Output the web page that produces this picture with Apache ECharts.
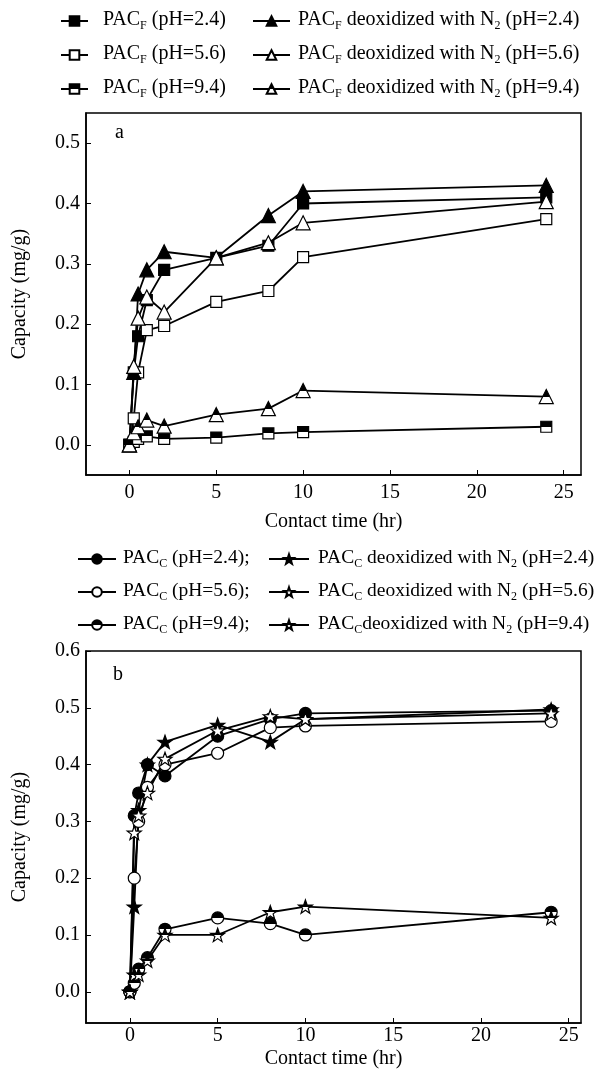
<!DOCTYPE html>
<html>
<head>
<meta charset="utf-8">
<script src="https://cdn.jsdelivr.net/npm/echarts@6/dist/echarts.min.js"></script>
<style>
html,body{margin:0;padding:0;background:#fff;}
#chart{width:604px;height:1070px;}
</style>
</head>
<body>
<div id="chart"></div>
<script>
// 数据: 接触时间 (hr) 与吸附量 (mg/g)
var timeA = [0, 0.25, 0.5, 1, 2, 5, 8, 10, 24];
var timeB = [0, 0.25, 0.5, 1, 2, 5, 8, 10, 24];

// 图 a: PAC_F
var pacF24 = [0, 0.12, 0.18, 0.24, 0.29, 0.31, 0.33, 0.40, 0.41];
var pacF56 = [0, 0.044, 0.12, 0.19, 0.197, 0.237, 0.255, 0.311, 0.374];
var pacF94 = [0, 0.005, 0.01, 0.014, 0.01, 0.012, 0.019, 0.021, 0.03];
var pacFN24 = [0, 0.12, 0.25, 0.29, 0.32, 0.31, 0.38, 0.42, 0.43];
var pacFN56 = [0, 0.13, 0.21, 0.245, 0.22, 0.31, 0.335, 0.368, 0.403];
var pacFN94 = [0, 0.02, 0.03, 0.041, 0.031, 0.05, 0.06, 0.09, 0.08];

// 图 b: PAC_C
var pacC24 = [0, 0.31, 0.35, 0.40, 0.38, 0.45, 0.48, 0.49, 0.495];
var pacC56 = [0, 0.2, 0.3, 0.36, 0.40, 0.42, 0.465, 0.468, 0.476];
var pacC94 = [0, 0.015, 0.04, 0.06, 0.11, 0.13, 0.12, 0.10, 0.14];
var pacCN24 = [0, 0.15, 0.32, 0.40, 0.44, 0.47, 0.44, 0.48, 0.497];
var pacCN56 = [0, 0.28, 0.31, 0.35, 0.41, 0.46, 0.485, 0.48, 0.49];
var pacCN94 = [0, 0.03, 0.03, 0.055, 0.10, 0.10, 0.14, 0.15, 0.13];

// 刻度
var xTicks = [0, 5, 10, 15, 20, 25];
var yTicksA = [0, 0.1, 0.2, 0.3, 0.4, 0.5];
var yTicksB = [0, 0.1, 0.2, 0.3, 0.4, 0.5, 0.6];

// 图例名称
var namesA = ['PAC_F (pH=2.4)', 'PAC_F (pH=5.6)', 'PAC_F (pH=9.4)',
	'PAC_F deoxidized with N_2 (pH=2.4)', 'PAC_F deoxidized with N_2 (pH=5.6)', 'PAC_F deoxidized with N_2 (pH=9.4)'];
var namesB = ['PAC_C (pH=2.4);', 'PAC_C (pH=5.6);', 'PAC_C (pH=9.4);',
	'PAC_C deoxidized with N_2 (pH=2.4)', 'PAC_C deoxidized with N_2 (pH=5.6)', 'PAC_Cdeoxidized with N_2 (pH=9.4)'];

var FONT = 'Liberation Serif';
var STAR = 'path://M0,-10 L2.35,-3.24 L9.51,-3.09 L3.8,1.24 L5.88,8.09 L0,4 L-5.88,8.09 L-3.8,1.24 L-9.51,-3.09 L-2.35,-3.24 Z';

function half() {
	return new echarts.graphic.LinearGradient(0, 0, 0, 1, [
		{offset: 0, color: '#000'}, {offset: 0.5, color: '#000'},
		{offset: 0.5, color: '#fff'}, {offset: 1, color: '#fff'}
	]);
}

function pairs(t, v) {
	return t.map(function (x, i) { return [x, v[i]]; });
}

function mk(name, idx, t, v, sym, size, fill) {
	return {
		name: name,
		type: 'line',
		xAxisIndex: idx,
		yAxisIndex: idx,
		data: pairs(t, v),
		symbol: sym,
		symbolSize: size,
		symbolKeepAspect: true,
		lineStyle: {color: '#000', width: 1.8},
		itemStyle: {color: fill, borderColor: '#000', borderWidth: 1.2},
		emphasis: {disabled: true}
	};
}

// 下标用 rich text
function legendFmt(name) {
	return '{t|' + name.replace(/_(\w)/g, '}{s|$1}{t|') + '}';
}

function legend(left, top, w, pad, gap, fs, data) {
	return {
		orient: 'vertical', left: left, top: top, padding: 0,
		itemWidth: w, itemHeight: 12, itemGap: gap,
		selectedMode: false,
		formatter: legendFmt,
		textStyle: {
			padding: [0, 0, 0, pad],
			rich: {
				t: {fontFamily: FONT, fontSize: fs, color: '#000', lineHeight: 22, verticalAlign: 'top'},
				s: {fontFamily: FONT, fontSize: 12, color: '#000', lineHeight: 12, verticalAlign: 'bottom', padding: [10, 0, 0, 0]}
			}
		},
		data: data
	};
}

function xAxis(idx, max, margin, gap) {
	return {
		type: 'value', gridIndex: idx, min: -2.5, max: max,
		name: 'Contact time (hr)', nameLocation: 'middle', nameGap: gap,
		nameTextStyle: {fontFamily: FONT, fontSize: 20, color: '#000'},
		axisLine: {onZero: false, lineStyle: {color: '#000', width: 1.5}},
		axisTick: {inside: true, length: 5, customValues: xTicks, lineStyle: {color: '#000'}},
		axisLabel: {customValues: xTicks, margin: margin, fontFamily: FONT, fontSize: 20, color: '#000'},
		splitLine: {show: false}
	};
}

function yAxis(idx, min, max, ticks) {
	return {
		type: 'value', gridIndex: idx, min: min, max: max,
		name: 'Capacity (mg/g)', nameLocation: 'middle', nameGap: 56,
		nameTextStyle: {fontFamily: FONT, fontSize: 20, color: '#000'},
		axisLine: {onZero: false, lineStyle: {color: '#000', width: 1.5}},
		axisTick: {inside: true, length: 5, customValues: ticks, lineStyle: {color: '#000'}},
		axisLabel: {customValues: ticks, margin: 6, fontFamily: FONT, fontSize: 20, color: '#000',
			formatter: function (v) { return v.toFixed(1); }},
		splitLine: {show: false}
	};
}

var myChart = echarts.init(document.getElementById('chart'));

var option = {
	animation: false,
	backgroundColor: '#fff',
	title: [
		{text: 'a', left: 110, top: 118, textStyle: {fontFamily: FONT, fontSize: 20, fontWeight: 'normal', color: '#000'}},
		{text: 'b', left: 108, top: 660, textStyle: {fontFamily: FONT, fontSize: 20, fontWeight: 'normal', color: '#000'}}
	],
	legend: [
		legend(60, 10, 27, 10, 12, 20, namesA.slice(0, 3)),
		legend(252, 10, 37, 3, 12, 20, namesA.slice(3)),
		legend(77, 548, 38, 2, 11, 19.5, namesB.slice(0, 3)),
		legend(268, 548, 40, 4, 11, 19.5, namesB.slice(3))
	],
	grid: [
		{left: 86, right: 23, top: 113, height: 362, show: true, borderColor: '#000', borderWidth: 1.5},
		{left: 86, right: 23, top: 651, height: 375, show: true, borderColor: '#000', borderWidth: 1.5}
	],
	xAxis: [xAxis(0, 26, 8, 37), xAxis(1, 25.7, 3, 26)],
	yAxis: [yAxis(0, -0.05, 0.55, yTicksA), yAxis(1, -0.055, 0.6, yTicksB)],
	series: [
		mk(namesA[0], 0, timeA, pacF24, 'rect', 11, '#000'),
		mk(namesA[1], 0, timeA, pacF56, 'rect', 11, '#fff'),
		mk(namesA[2], 0, timeA, pacF94, 'rect', 11, half()),
		mk(namesA[3], 0, timeA, pacFN24, 'triangle', 14, '#000'),
		mk(namesA[4], 0, timeA, pacFN56, 'triangle', 14, '#fff'),
		mk(namesA[5], 0, timeA, pacFN94, 'triangle', 14, half()),
		mk(namesB[0], 1, timeB, pacC24, 'circle', 12, '#000'),
		mk(namesB[1], 1, timeB, pacC56, 'circle', 12, '#fff'),
		mk(namesB[2], 1, timeB, pacC94, 'circle', 12, half()),
		mk(namesB[3], 1, timeB, pacCN24, STAR, 14, '#000'),
		mk(namesB[4], 1, timeB, pacCN56, STAR, 14, '#fff'),
		mk(namesB[5], 1, timeB, pacCN94, STAR, 14, half())
	]
};
myChart.setOption(option);
</script>
</body>
</html>
